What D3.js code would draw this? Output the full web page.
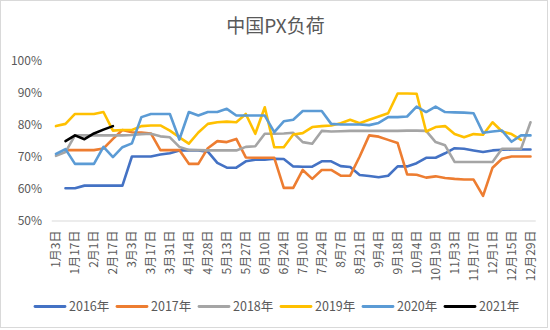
<!DOCTYPE html>
<html><head><meta charset="utf-8">
<script src="https://cdn.jsdelivr.net/npm/d3@7"></script>
<style>body{margin:0;background:#fff}svg{display:block}text{font-family:"Noto Sans CJK SC","Noto Sans",sans-serif}</style>
</head><body><svg id="c" width="550" height="330"></svg>
<script>
const categories = ["1月3日","1月10日","1月17日","1月24日","2月1日","2月10日","2月17日","2月24日","3月3日","3月10日","3月17日","3月24日","3月31日","4月7日","4月14日","4月21日","4月28日","5月6日","5月13日","5月20日","5月27日","6月3日","6月10日","6月17日","6月24日","7月3日","7月10日","7月17日","7月24日","7月31日","8月7日","8月14日","8月21日","8月28日","9月4日","9月11日","9月18日","9月25日","10月4日","10月11日","10月19日","10月26日","11月3日","11月10日","11月17日","11月24日","12月1日","12月8日","12月15日","12月22日","12月29日"];
const seriesNames = ["2016年","2017年","2018年","2019年","2020年","2021年"];
const yTicks = [50,60,70,80,90,100];
const s2016 = [null,60.1,60.1,60.9,60.9,60.9,60.9,60.9,70,70,70,70.6,71,71.9,72,71.9,71.5,68,66.5,66.5,68.5,69,69,69.3,69.2,66.9,66.8,66.8,68.5,68.5,67,66.7,64.2,63.9,63.5,64,66.9,66.9,67.9,69.6,69.6,71,72.6,72.4,71.9,71.4,71.9,72.1,72.2,72.2,72.2];
const s2017 = [null,72,72,72,72,72.5,75.5,78.3,77.6,77.5,77.2,72,72,72,67.7,67.7,72.6,74.8,74.5,75.5,69.7,69.6,69.6,69.6,60.2,60.2,65.8,63,65.8,65.8,64,64,70,76.6,76.2,75.2,74.2,64.4,64.3,63.4,63.8,63.3,63,62.8,62.8,57.7,66.5,69.3,70,70,70];
const s2018 = [70.2,71.4,76.6,76.6,76.6,76.6,76.6,76.6,76.7,77,77.1,76.3,76,73,72,72,71.9,71.9,71.9,71.9,73,73.2,77.1,77.1,77.2,77.4,74.5,74,78,77.8,77.9,78,78,78,78,78,78,78.1,78.1,78,74.5,73.5,68.3,68.3,68.3,68.3,68.3,72.4,72.4,72.4,80.7];
const s2019 = [79.5,80.2,83.3,83.3,83.3,83.9,78.1,78.3,78.3,79.5,79.7,79.7,78.1,76,74,77.5,80.2,80.7,80.9,80.7,83.3,77.1,85.4,72.9,72.9,76.9,77.3,79.2,79.5,79.7,80.4,81.5,80.4,81.5,82.5,83.5,89.7,89.7,89.6,77.8,79.2,79.5,77,76,77,76.8,80.7,77.8,77,75.2,null];
const s2020 = [70.8,72.3,67.7,67.7,67.7,73,69.8,72.9,74.1,82.3,83.3,83.3,83.3,75.3,83.9,82.8,83.9,83.9,84.9,82.8,82.8,82.8,82.8,77.6,81,81.5,84.2,84.2,84.2,80.2,80,80,80,79.8,80.5,82.3,82.3,82.5,85.6,83.9,85.6,83.9,83.8,83.7,83.5,77.4,77.8,78.1,74.6,76.6,76.6];
const s2021 = [null,74.8,76.6,75.4,77.2,78.4,79.5];
const colors = ["#4472C4","#ED7D31","#A5A5A5","#FFC000","#5B9BD5","#000000"];
const allSeries = [s2016,s2017,s2018,s2019,s2020,s2021];

const svg = d3.select("#c");
svg.append("rect").attr("x",0.5).attr("y",0.5).attr("width",547).attr("height",327)
  .attr("fill","#fff").attr("stroke","#d9d9d9");

svg.append("text").attr("x",275.5).attr("y",33).attr("text-anchor","middle")
  .attr("font-size",19).attr("fill","#595959").text("中国PX负荷");

const x = d3.scaleBand().domain(categories).range([51.25,535.25]).padding(0);
const y = d3.scaleLinear().domain([50,100]).range([220.5,60.5]);
const cx = c => x(c) + x.bandwidth()/2;

const ya = svg.append("g").attr("transform","translate(42,0)")
  .call(d3.axisLeft(y).tickValues(yTicks).tickSize(0).tickPadding(0).tickFormat(d=>d+"%"));
ya.select(".domain").remove();
ya.selectAll("text").attr("font-size",12).attr("fill","#595959").style("font-family",'"Noto Sans CJK SC",sans-serif');

const xa = svg.append("g").attr("transform","translate(0,220.5)")
  .call(d3.axisBottom(x).tickValues(categories.filter((d,i)=>i%2===0)).tickSize(0).tickSizeOuter(0));
xa.select(".domain").attr("stroke","#d9d9d9").attr("stroke-width",1);
xa.selectAll("text").attr("transform","rotate(-90)").attr("text-anchor","end")
  .attr("x",-10).attr("y",0).attr("dy","0.35em")
  .attr("font-size",12).attr("fill","#595959").style("font-family",'"Noto Sans CJK SC",sans-serif');

const line = d3.line()
  .defined(d => d.v !== null && d.v !== undefined)
  .x(d => cx(d.c)).y(d => y(d.v));

allSeries.forEach((s,k) => {
  const pts = s.map((v,i) => ({c: categories[i], v: v}));
  svg.append("path").datum(pts).attr("d", line)
    .attr("fill","none").attr("stroke",colors[k]).attr("stroke-width",2.6)
    .attr("stroke-linejoin","round").attr("stroke-linecap","round");
});

const lg = svg.append("g");
seriesNames.forEach((n,k) => {
  const lx = 35 + k*82;
  lg.append("line").attr("x1",lx).attr("x2",lx+30).attr("y1",306.5).attr("y2",306.5)
    .attr("stroke",colors[k]).attr("stroke-width",2.8).attr("stroke-linecap","round");
  lg.append("text").attr("x",lx+34).attr("y",306.5).attr("dy","0.35em")
    .attr("font-size",12.5).attr("fill","#595959").text(n);
});
</script></body></html>
